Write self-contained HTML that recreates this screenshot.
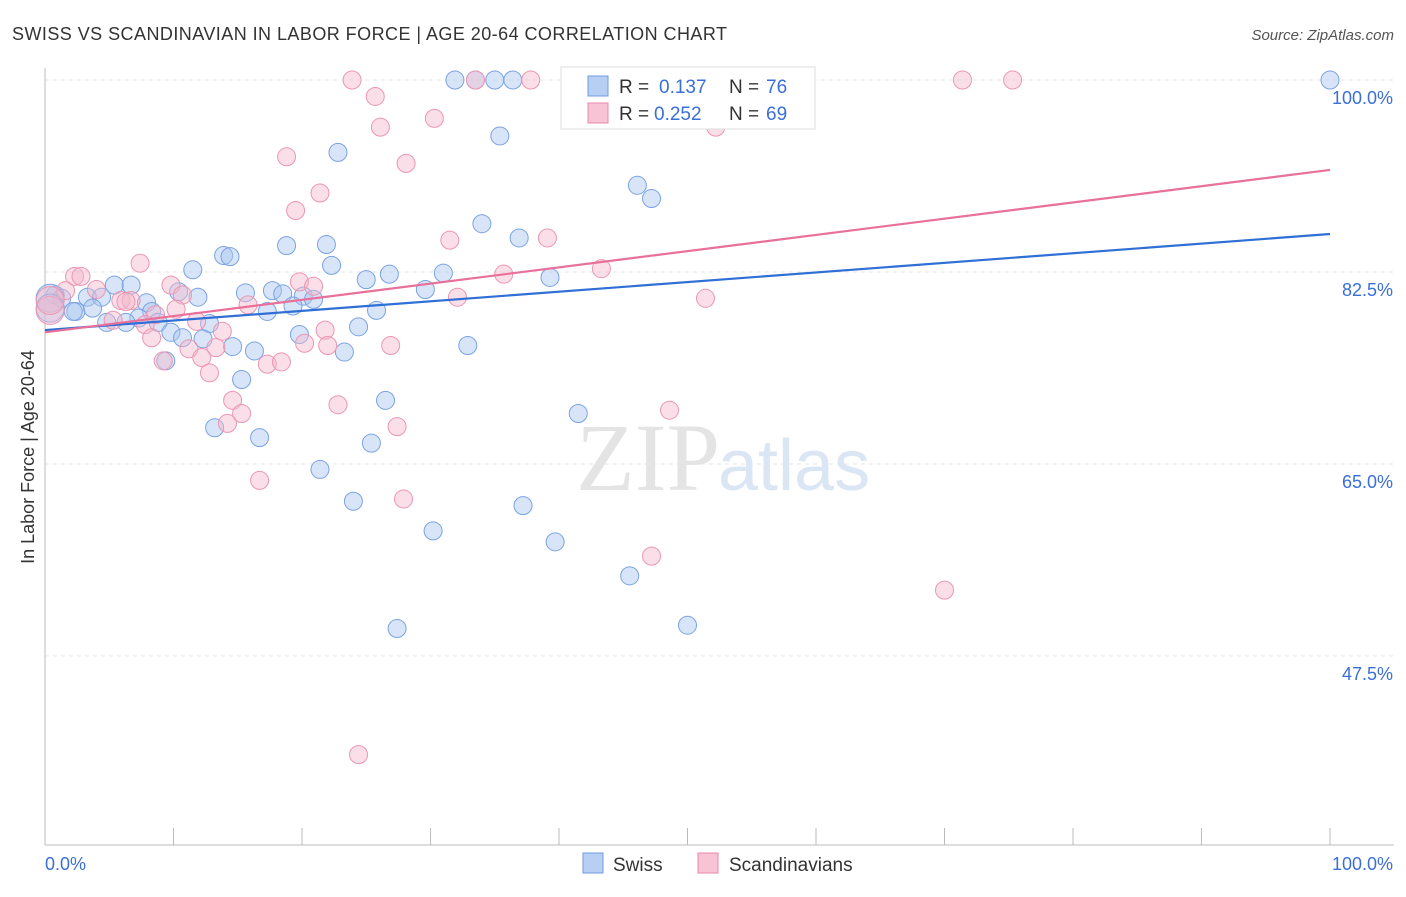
<!DOCTYPE html>
<html><head><meta charset="utf-8"><style>
body{margin:0;background:#fff;font-family:"Liberation Sans",sans-serif;}
</style></head><body>
<svg width="1406" height="892" xmlns="http://www.w3.org/2000/svg" style="font-family:'Liberation Sans',sans-serif">
<text x="12" y="40" font-size="18" fill="#333" textLength="715" lengthAdjust="spacing">SWISS VS SCANDINAVIAN IN LABOR FORCE | AGE 20-64 CORRELATION CHART</text>
<text x="1394" y="40" font-size="15" fill="#555" text-anchor="end" font-style="italic">Source: ZipAtlas.com</text>
<g id="grid"></g>
<text x="720" y="490" font-size="96" fill="#e4e4e4" text-anchor="end" font-family="Liberation Serif">ZIP</text>
<text x="718" y="490" font-size="72" fill="#dbe6f5">atlas</text>
<g id="pts"></g>
<g id="lines"></g>
<text transform="translate(34,457) rotate(-90)" font-size="18" fill="#333" text-anchor="middle">In Labor Force | Age 20-64</text>
<g>
<rect x="561" y="67" width="254" height="62" fill="#fff" stroke="#ddd"/>
<rect x="588" y="76" width="20" height="20" fill="#b7cff3" stroke="#6f9be0"/>
<rect x="588" y="103" width="20" height="20" fill="#f8c3d4" stroke="#e88aab"/>
<g font-size="19" fill="#333">
<text x="619" y="93">R =</text><text x="659" y="93" fill="#3a6fd8">0.137</text><text x="729" y="93">N =</text><text x="766" y="93" fill="#3a6fd8">76</text></g>
<g font-size="19" fill="#333">
<text x="619" y="120">R =</text><text x="654" y="120" fill="#3a6fd8">0.252</text><text x="729" y="120">N =</text><text x="766" y="120" fill="#3a6fd8">69</text></g>
</g>
<g>
<rect x="583" y="853" width="20" height="20" fill="#b7cff3" stroke="#6f9be0"/>
<text x="613" y="871" font-size="19" fill="#333">Swiss</text>
<rect x="698" y="853" width="20" height="20" fill="#f8c3d4" stroke="#e88aab"/>
<text x="729" y="871" font-size="19" fill="#333">Scandinavians</text>
</g>
</svg>
<script>
const swissX=[31.9,33.5,35.0,36.4,100,22.8,35.4,46.1,47.2,34.0,36.9,18.8,21.9,13.9,14.4,11.5,22.3,25.0,26.8,31.0,39.3,5.4,6.7,0.8,1.3,3.3,4.4,7.9,10.4,11.9,15.6,17.7,18.5,20.1,20.9,29.6,25.8,19.3,17.3,2.4,3.7,8.3,2.2,7.3,8.8,12.8,4.8,6.3,9.8,10.7,12.3,14.6,16.3,19.8,24.4,23.3,32.9,9.4,15.3,26.5,41.5,13.2,16.7,25.4,21.4,24.0,37.2,30.2,39.7,45.5,50.0,27.4,0.4,0.4];
const swissY=[100,100,100,100,100,93.4,94.9,90.4,89.2,86.9,85.6,84.9,85.0,84.0,83.9,82.7,83.1,81.8,82.3,82.4,82.0,81.3,81.3,80.4,80.1,80.2,80.2,79.7,80.7,80.2,80.6,80.8,80.5,80.3,80.0,80.9,79.0,79.4,78.9,78.9,79.2,78.9,78.9,78.3,77.9,77.8,77.9,77.9,77.0,76.5,76.4,75.7,75.3,76.8,77.5,75.2,75.8,74.4,72.7,70.8,69.6,68.3,67.4,66.9,64.5,61.6,61.2,58.9,57.9,54.8,50.3,50.0,80.1,79.2];
const scandX=[23.9,33.5,37.8,42.1,71.4,75.3,25.7,26.1,30.3,52.2,18.8,28.1,21.4,19.5,31.5,39.1,7.4,2.3,2.8,43.3,35.7,19.8,20.9,9.8,4.0,1.6,32.1,51.4,10.7,5.9,6.7,6.3,15.8,10.2,8.6,5.3,11.8,7.8,13.8,21.8,8.3,20.2,22.0,26.9,11.2,13.3,12.2,17.3,18.4,9.2,12.8,14.6,22.8,48.6,15.3,14.2,27.4,16.7,27.9,47.2,70.0,24.4,0.4,0.4];
const scandY=[100,100,100,100,100,100,98.5,95.7,96.5,95.7,93.0,92.4,89.7,88.1,85.4,85.6,83.3,82.1,82.1,82.8,82.3,81.6,81.2,81.3,80.9,80.8,80.2,80.1,80.4,79.9,79.9,79.8,79.5,79.1,78.6,78.1,78.0,77.7,77.1,77.2,76.5,76.0,75.8,75.8,75.5,75.6,74.7,74.1,74.3,74.4,73.3,70.8,70.4,69.9,69.6,68.7,68.4,63.5,61.8,56.6,53.5,38.5,79.0,79.9];
const swissTrend=[77.2,85.96];
const scandTrend=[77.0,91.8];
const yTicks=[100,82.5,65,47.5];
const yTickLabels=["100.0%","82.5%","65.0%","47.5%"];
const NS="http://www.w3.org/2000/svg";
const sx=v=>45+v*12.85, sy=v=>80+(100-v)*10.97;
function mk(t,a,p){const e=document.createElementNS(NS,t);for(const k in a)e.setAttribute(k,a[k]);p.appendChild(e);return e;}
const grid=document.getElementById('grid');
yTicks.forEach((t,i)=>{
 const l=mk('line',{x1:45,x2:1394,y1:sy(t),y2:sy(t),stroke:'#e6e6e6','stroke-dasharray':'4,4'},grid);
 
 
 const tx=mk('text',{x:1393,y:sy(t)+24,'font-size':18,fill:'#3a6fd8','text-anchor':'end'},grid);
 tx.textContent=yTickLabels[i];
 
 
});
const ax=mk('line',{x1:45,x2:45,y1:68,y2:845,stroke:'#bbb'},grid);


const bx=mk('line',{x1:45,x2:1394,y1:845,y2:845,stroke:'#bbb'},grid);


for(let i=0;i<=10;i++){const t=mk('line',{x1:sx(i*10),x2:sx(i*10),y1:828,y2:845,stroke:'#bbb'},grid);
 
 }
[[0,"0.0%",'start',45],[100,"100.0%",'end',1393]].forEach(a=>{const t=mk('text',{x:a[3],y:870,'font-size':18,fill:'#3a6fd8','text-anchor':a[2]},grid);t.textContent=a[1];
 
 });
const pts=document.getElementById('pts');
function draw(X,Y,fill,stroke,name){X.forEach((x,i)=>{const r=i>=X.length-2?14:9;
 const c=mk('circle',{cx:sx(x),cy:sy(Y[i]),r:r,fill:fill,'fill-opacity':0.45,stroke:stroke,'stroke-width':1},pts);
 
 });}
draw(swissX,swissY,'#a9c5f0','#7aa3e3','swiss-point');
draw(scandX,scandY,'#f5b8cc','#eb96b3','scandinavian-point');
const lines=document.getElementById('lines');
const l1=mk('line',{x1:sx(0),y1:sy(swissTrend[0]),x2:sx(100),y2:sy(swissTrend[1]),stroke:'#2f6fd6','stroke-width':2.2},lines);


const l2=mk('line',{x1:sx(0),y1:sy(scandTrend[0]),x2:sx(100),y2:sy(scandTrend[1]),stroke:'#e8709a','stroke-width':2.2},lines);


</script>
</body></html>
